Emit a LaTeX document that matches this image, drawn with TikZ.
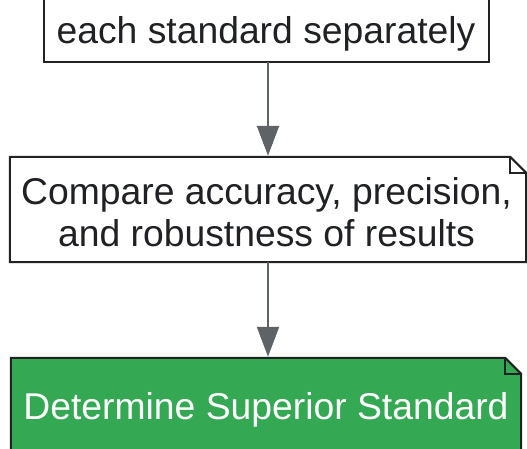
\documentclass[tikz,border=0pt]{standalone}
\usepackage{fontspec}
\setmainfont{Liberation Sans}
\usetikzlibrary{arrows.meta}
\definecolor{txtdark}{HTML}{202124}
\definecolor{edgedark}{HTML}{222222}
\definecolor{arrowgray}{HTML}{5F6368}
\definecolor{okgreen}{HTML}{34A853}
\tikzset{
  boxtext/.style={font=\fontsize{37.3}{42}\selectfont, text=txtdark, align=center, inner sep=0pt},
  boxframe/.style={draw=edgedark, line width=2pt, line join=miter},
  flowarrow/.style={draw=arrowgray, line width=2pt, -{Triangle[length=30pt,width=22pt]}},
}
\begin{document}
\begin{tikzpicture}[x=1pt,y=1pt]
\useasboundingbox (0,0) rectangle (527,449);
\clip (0,0) rectangle (527,449);
% top box (cut off at top)
\node[minimum width=445pt, minimum height=140pt, inner sep=0pt] (top) at (266.5,457) {};
\draw[boxframe] (top.north west) -- (top.south west) -- (top.south east) -- (top.north east);
\node[boxtext, anchor=base] (toptext) at (266,405) {each standard separately};
% middle box
\node[minimum width=516pt, minimum height=105pt, inner sep=0pt] (mid) at (268,239.5) {};
\draw[boxframe, fill=white] (mid.north west) -- ([xshift=-16pt]mid.north east) -- ([yshift=-16pt]mid.north east) -- (mid.south east) -- (mid.south west) -- cycle;
\draw[boxframe] ([xshift=-16pt]mid.north east) |- ([yshift=-16pt]mid.north east);
\node[boxtext] (midtext) at (266.5,237) {Compare accuracy, precision,\\and robustness of results};
% bottom box
\node[minimum width=510pt, minimum height=140pt, inner sep=0pt] (bot) at (266,21) {};
\draw[boxframe, fill=okgreen] (bot.north west) -- ([xshift=-16pt]bot.north east) -- ([yshift=-16pt]bot.north east) -- (bot.south east) -- (bot.south west) -- cycle;
\draw[boxframe] ([xshift=-16pt]bot.north east) |- ([yshift=-16pt]bot.north east);
\node[boxtext, text=white, anchor=base] (bottext) at (266,29) {Determine Superior Standard};
% arrows
\draw[flowarrow] (top.south -| 268,0) -- ([yshift=1pt]mid.north -| 268,0);
\draw[flowarrow] (mid.south -| 268,0) -- ([yshift=1pt]bot.north -| 268,0);
\end{tikzpicture}
\end{document}
